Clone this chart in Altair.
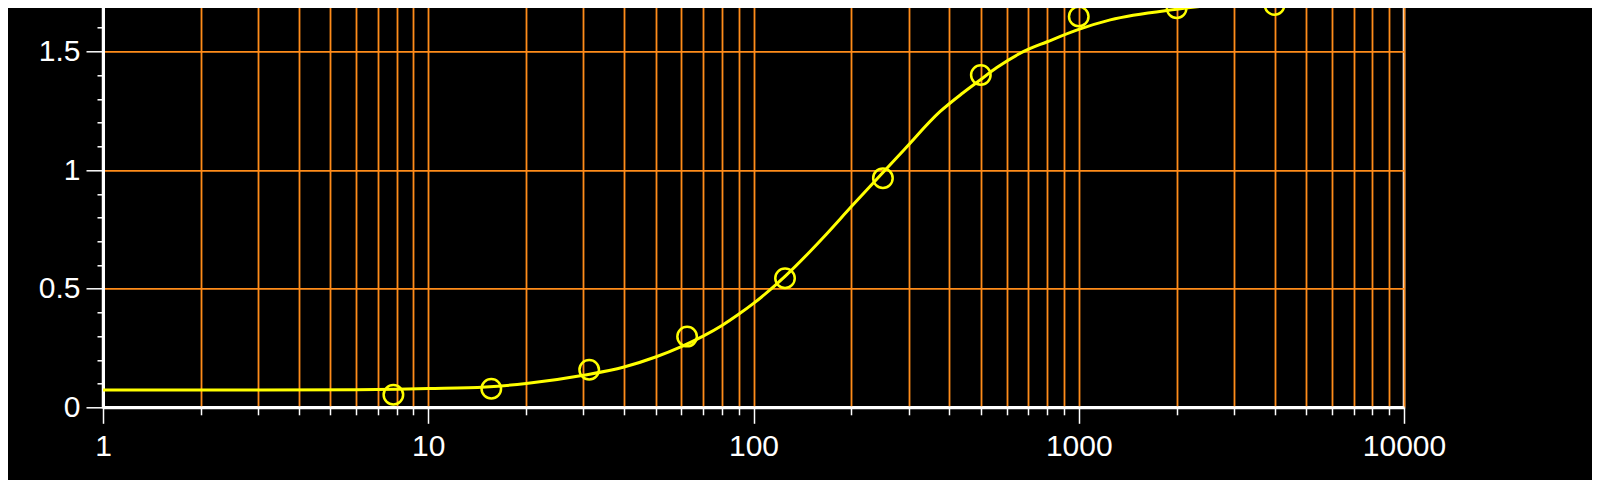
import altair as alt
import pandas as pd

# measured points (serial two-fold dilution)
conc = [7.8125, 15.625, 31.25, 62.5, 125, 250, 500, 1000, 2000, 4000]
resp = [0.053, 0.078, 0.158, 0.298, 0.544, 0.966, 1.401, 1.647, 1.682, 1.696]

# fitted curve
fit_x = [1, 3, 6, 8, 10, 15, 20, 30, 40, 50, 60, 70, 80, 90, 100, 125, 150, 165,
         200, 250, 290, 375, 440, 500, 560, 675, 800, 1000, 1250, 2000, 3000, 5400]
fit_y = [0.073, 0.073, 0.074, 0.076, 0.079, 0.086, 0.100, 0.135, 0.170, 0.212,
         0.256, 0.300, 0.345, 0.392, 0.438, 0.552, 0.660, 0.720, 0.846, 0.990,
         1.085, 1.247, 1.325, 1.382, 1.432, 1.499, 1.541, 1.593, 1.633, 1.678,
         1.703, 1.717]

x_ticks = [k * 10 ** d for d in range(4) for k in range(1, 10)] + [10000]
x_major = [1, 10, 100, 1000, 10000]
y_ticks = [round(0.1 * i, 1) for i in range(19)]
y_major = [0, 0.5, 1, 1.5]

ORANGE = "#ff8c1a"
YELLOW = "#ffff00"
FONT = "Liberation Sans"

pts = pd.DataFrame({"x": conc, "y": resp})
fit = pd.DataFrame({"x": fit_x, "y": fit_y})

x_test = " || ".join(f"datum.value == {v}" for v in x_major)
y_test = " || ".join(f"datum.value == {v}" for v in y_major)
y_grid_test = " || ".join(f"datum.value == {v}" for v in [0.5, 1, 1.5])

xscale = alt.Scale(type="log", domain=[1, 10000])
yscale = alt.Scale(domain=[0, 1.8], zero=False, nice=False)

xaxis = alt.Axis(
    values=x_ticks, tickCount=500, title=None,
    labelExpr=f"({x_test}) ? '' + datum.value : ''",
    labelFont=FONT, labelFontSize=30, labelColor="white", labelPadding=8,
    labelFlush=False, labelOverlap=False,
    tickColor="white", tickWidth=1.5,
    tickSize={"condition": {"test": x_test, "value": 16}, "value": 7.5},
    domainColor="white", domainWidth=3,
    grid=True, gridColor=ORANGE, gridWidth=1.8,
)
yaxis = alt.Axis(
    values=y_ticks, tickCount=500, title=None,
    labelExpr=f"({y_test}) ? '' + datum.value : ''",
    labelFont=FONT, labelFontSize=30, labelColor="white", labelPadding=6,
    labelFlush=False, labelOverlap=False,
    tickColor="white", tickWidth=1.5,
    tickSize={"condition": {"test": y_test, "value": 17}, "value": 6},
    domainColor="white", domainWidth=3,
    grid=True, gridColor=ORANGE, gridWidth=1.8,
    gridOpacity={"condition": {"test": y_grid_test, "value": 1}, "value": 0},
)

line = alt.Chart(fit).mark_line(color=YELLOW, strokeWidth=3, interpolate="monotone").encode(
    x=alt.X("x:Q", scale=xscale, axis=xaxis),
    y=alt.Y("y:Q", scale=yscale, axis=yaxis),
)
dots = alt.Chart(pts).mark_point(shape="circle", filled=False, size=380, strokeWidth=2.5,
                                 color=YELLOW, opacity=1).encode(
    x=alt.X("x:Q", scale=xscale),
    y=alt.Y("y:Q", scale=yscale),
)

chart = (line + dots).properties(
    width=1301, height=427,
    background="black",
    padding={"left": 95, "top": -27.7, "right": 188, "bottom": 72.5},
    autosize=alt.AutoSizeParams(type="none"),
).configure_view(stroke="white", strokeWidth=2.5)

chart.save("out.html", embed_options={"renderer": "svg", "actions": False})
